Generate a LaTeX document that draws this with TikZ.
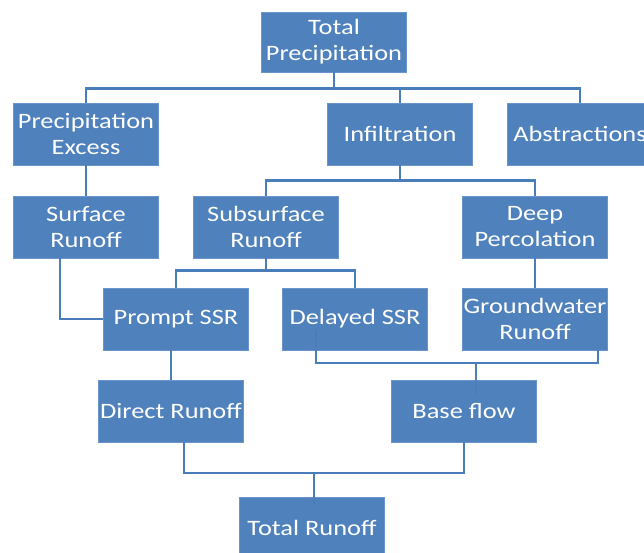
\documentclass[tikz,border=0pt]{standalone}
\usepackage{fontspec}
\setmainfont{Carlito}[FakeStretch=1.2]
\usepackage{tikz}
\usetikzlibrary{calc}
\definecolor{boxblue}{HTML}{4F81BD}
\definecolor{boxedge}{HTML}{6A95CB}
\definecolor{lineblue}{HTML}{4A7EBB}

\begin{document}
\begin{tikzpicture}[x=1pt, y=-1pt,
    box/.style={draw=boxedge, line width=0.6pt, fill=boxblue, text=white,
        minimum width=145pt, minimum height=62pt, inner xsep=0pt, align=center,
        font=\fontsize{22}{26}\selectfont},
    link/.style={draw=lineblue, line width=2.6pt}]

        \clip (0,0) rectangle (644,552);
        \fill[white] (0,0) rectangle (644,552);

        % boxes
        \node (tp) at (334,42) [box, minimum height=60pt] {Total\\Precipitation};
        \node (pe) at (86,134) [box] {Precipitation\\Excess};
        \node (inf) at (400,134) [box] {Infiltration};
        \node (ab) at (580,134) [box] {Abstractions};
        \node (sr) at (86,227) [box] {Surface\\Runoff};
        \node (ssr) at (266,227) [box] {Subsurface\\Runoff};
        \node (dp) at (535,227) [box] {Deep\\Percolation};
        \node (pssr) at (176,319) [box] {Prompt SSR};
        \node (dssr) at (355,319) [box] {Delayed SSR};
        \node (gw) at (535,319) [box] {Groundwater\\Runoff};
        \node (dr) at (171,411) [box] {Direct Runoff};
        \node (bf) at (464,411) [box] {Base flow};
        \node (tr) at (312,528) [box] {Total Runoff};

        % connectors
        \draw[link] (tp.south) -- ++(0,16) coordinate (tpbus);
        \draw[link] (pe.north) |- (tpbus) -| (ab.north);
        \draw[link] (tpbus) -| (inf.north);

        \draw[link] (inf.south) -- ++(0,15) coordinate (infbus);
        \draw[link] (ssr.north) |- (infbus) -| (dp.north);

        \draw[link] (pe.south) -- (sr.north);
        \draw[link] (dp.south) -- (gw.north);

        \draw[link] (ssr.south) -- ++(0,12) coordinate (ssrbus);
        \draw[link] (pssr.north) |- (ssrbus) -| (dssr.north);

        \draw[link] ([xshift=-26pt]sr.south) |- (pssr.west);
        \draw[link] (dr.north) -- (dr.north |- pssr.south);

        \coordinate (bfbus) at (476,363);
        \draw[link] ([xshift=-39pt,yshift=-11pt]dssr.center) |- (bfbus) -| ([xshift=63pt]gw.south);
        \draw[link] (bfbus) -- ($(bfbus |- bf.north)+(0,14)$);

        \coordinate (trbus) at (314,473);
        \draw[link] ([xshift=13pt]dr.south) |- (trbus) -| (bf.south);
        \draw[link] (trbus) -- ($(trbus |- tr.north)+(0,8)$);
    \end{tikzpicture}
\end{document}
